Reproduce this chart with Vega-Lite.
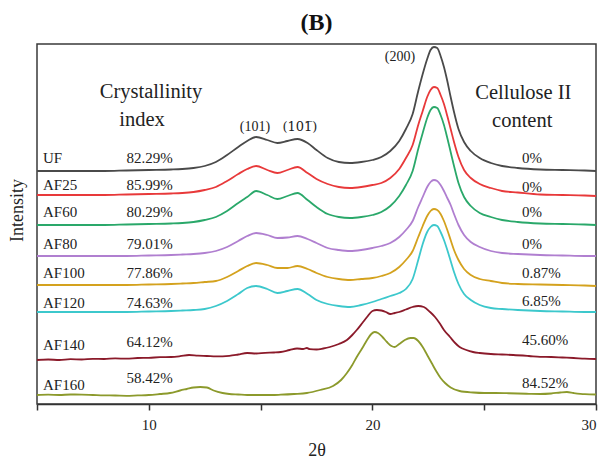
{
  "$schema": "https://vega.github.io/schema/vega-lite/v6.json",
  "width": 559,
  "height": 360,
  "autosize": {"type": "none"},
  "padding": {"left": 37, "top": 44, "right": 10, "bottom": 59},
  "background": "white",
  "title": {"text": "(B)", "font": "Liberation Serif", "fontSize": 24, "fontWeight": "bold", "color": "#111", "anchor": "middle", "offset": 9},
  "config": {
    "view": {"stroke": "#3a3a3a", "strokeWidth": 1.5},
    "text": {"font": "Liberation Serif", "color": "#222"}
  },
  "datasets": {
    "curves": [
      {"s":"UF","t":5,"v":233},{"s":"UF","t":6,"v":233},{"s":"UF","t":7,"v":233},{"s":"UF","t":8,"v":233},{"s":"UF","t":9,"v":233.5},{"s":"UF","t":10,"v":234},{"s":"UF","t":11,"v":234.5},
      {"s":"UF","t":11.5,"v":235},{"s":"UF","t":12,"v":236},{"s":"UF","t":12.5,"v":238},{"s":"UF","t":13,"v":242},{"s":"UF","t":13.5,"v":249},{"s":"UF","t":14,"v":257},
      {"s":"UF","t":14.4,"v":263},{"s":"UF","t":14.8,"v":267},{"s":"UF","t":15.3,"v":264},{"s":"UF","t":15.75,"v":261},{"s":"UF","t":16.2,"v":263},{"s":"UF","t":16.65,"v":265},{"s":"UF","t":17.1,"v":261},{"s":"UF","t":17.5,"v":254},
      {"s":"UF","t":18,"v":246},{"s":"UF","t":18.5,"v":242},{"s":"UF","t":19,"v":241},{"s":"UF","t":19.5,"v":242},{"s":"UF","t":20,"v":244},
      {"s":"UF","t":20.4,"v":247},{"s":"UF","t":20.8,"v":253},{"s":"UF","t":21.2,"v":263},{"s":"UF","t":21.5,"v":275},{"s":"UF","t":21.8,"v":290},
      {"s":"UF","t":22.05,"v":313},{"s":"UF","t":22.25,"v":330},{"s":"UF","t":22.45,"v":345},{"s":"UF","t":22.6,"v":354},{"s":"UF","t":22.75,"v":357},{"s":"UF","t":22.9,"v":356},
      {"s":"UF","t":23.05,"v":348},{"s":"UF","t":23.2,"v":337},{"s":"UF","t":23.35,"v":323},{"s":"UF","t":23.5,"v":307},{"s":"UF","t":23.65,"v":292},{"s":"UF","t":23.85,"v":275},
      {"s":"UF","t":24.1,"v":262},{"s":"UF","t":24.4,"v":253},{"s":"UF","t":24.8,"v":246},{"s":"UF","t":25.3,"v":241},{"s":"UF","t":25.8,"v":238},
      {"s":"UF","t":26.5,"v":236},{"s":"UF","t":27.5,"v":234.5},{"s":"UF","t":28.5,"v":234},{"s":"UF","t":29.5,"v":233.5},{"s":"UF","t":30,"v":233},

      {"s":"AF25","t":5,"v":209},{"s":"AF25","t":6,"v":209},{"s":"AF25","t":7,"v":209},{"s":"AF25","t":8,"v":209},{"s":"AF25","t":9,"v":209.5},{"s":"AF25","t":10,"v":210},{"s":"AF25","t":11,"v":210.5},
      {"s":"AF25","t":11.5,"v":211},{"s":"AF25","t":12,"v":212},{"s":"AF25","t":12.5,"v":214},{"s":"AF25","t":13,"v":217},{"s":"AF25","t":13.5,"v":223},{"s":"AF25","t":14,"v":230},
      {"s":"AF25","t":14.4,"v":235},{"s":"AF25","t":14.8,"v":238},{"s":"AF25","t":15.3,"v":234},{"s":"AF25","t":15.75,"v":231},{"s":"AF25","t":16.2,"v":234},{"s":"AF25","t":16.65,"v":237},{"s":"AF25","t":17.1,"v":231},{"s":"AF25","t":17.5,"v":225},
      {"s":"AF25","t":18,"v":220},{"s":"AF25","t":18.5,"v":217},{"s":"AF25","t":19,"v":216},{"s":"AF25","t":19.5,"v":217},{"s":"AF25","t":20,"v":219},
      {"s":"AF25","t":20.4,"v":221},{"s":"AF25","t":20.8,"v":226},{"s":"AF25","t":21.2,"v":235},{"s":"AF25","t":21.5,"v":246},{"s":"AF25","t":21.8,"v":259},
      {"s":"AF25","t":22.05,"v":279},{"s":"AF25","t":22.25,"v":293},{"s":"AF25","t":22.45,"v":307},{"s":"AF25","t":22.6,"v":314},{"s":"AF25","t":22.75,"v":317},{"s":"AF25","t":22.9,"v":316},
      {"s":"AF25","t":23.05,"v":309},{"s":"AF25","t":23.2,"v":300},{"s":"AF25","t":23.35,"v":288},{"s":"AF25","t":23.5,"v":275},{"s":"AF25","t":23.65,"v":262},{"s":"AF25","t":23.85,"v":247},
      {"s":"AF25","t":24.1,"v":234},{"s":"AF25","t":24.4,"v":226},{"s":"AF25","t":24.8,"v":220},{"s":"AF25","t":25.3,"v":216},{"s":"AF25","t":25.8,"v":213},
      {"s":"AF25","t":26.5,"v":211.5},{"s":"AF25","t":27.5,"v":209.5},{"s":"AF25","t":28.5,"v":209},{"s":"AF25","t":29.5,"v":208.5},{"s":"AF25","t":30,"v":208},

      {"s":"AF60","t":5,"v":179},{"s":"AF60","t":6,"v":179},{"s":"AF60","t":7,"v":179},{"s":"AF60","t":8,"v":179},{"s":"AF60","t":9,"v":179.5},{"s":"AF60","t":10,"v":180},{"s":"AF60","t":11,"v":180.5},
      {"s":"AF60","t":11.5,"v":181},{"s":"AF60","t":12,"v":182},{"s":"AF60","t":12.5,"v":184},{"s":"AF60","t":13,"v":187},{"s":"AF60","t":13.5,"v":193},{"s":"AF60","t":14,"v":201},
      {"s":"AF60","t":14.4,"v":207},{"s":"AF60","t":14.8,"v":213},{"s":"AF60","t":15.3,"v":209},{"s":"AF60","t":15.75,"v":205},{"s":"AF60","t":16.2,"v":208},{"s":"AF60","t":16.65,"v":211},{"s":"AF60","t":17.1,"v":204},{"s":"AF60","t":17.5,"v":197},
      {"s":"AF60","t":18,"v":190},{"s":"AF60","t":18.5,"v":187},{"s":"AF60","t":19,"v":186},{"s":"AF60","t":19.5,"v":187},{"s":"AF60","t":20,"v":189},
      {"s":"AF60","t":20.4,"v":192},{"s":"AF60","t":20.8,"v":198},{"s":"AF60","t":21.2,"v":208},{"s":"AF60","t":21.5,"v":219},{"s":"AF60","t":21.8,"v":233},
      {"s":"AF60","t":22.05,"v":255},{"s":"AF60","t":22.25,"v":271},{"s":"AF60","t":22.45,"v":286},{"s":"AF60","t":22.6,"v":294},{"s":"AF60","t":22.75,"v":297},{"s":"AF60","t":22.9,"v":296},
      {"s":"AF60","t":23.05,"v":289},{"s":"AF60","t":23.2,"v":279},{"s":"AF60","t":23.35,"v":266},{"s":"AF60","t":23.5,"v":252},{"s":"AF60","t":23.65,"v":238},{"s":"AF60","t":23.85,"v":221},
      {"s":"AF60","t":24.1,"v":207},{"s":"AF60","t":24.4,"v":198},{"s":"AF60","t":24.8,"v":191},{"s":"AF60","t":25.3,"v":187},{"s":"AF60","t":25.8,"v":184},
      {"s":"AF60","t":26.5,"v":182},{"s":"AF60","t":27.5,"v":180.5},{"s":"AF60","t":28.5,"v":180},{"s":"AF60","t":29.5,"v":179.5},{"s":"AF60","t":30,"v":179},

      {"s":"AF80","t":5,"v":148},{"s":"AF80","t":6,"v":148},{"s":"AF80","t":7,"v":148},{"s":"AF80","t":8,"v":148},{"s":"AF80","t":9,"v":148},{"s":"AF80","t":10,"v":148.5},{"s":"AF80","t":11,"v":149},
      {"s":"AF80","t":11.5,"v":149.5},{"s":"AF80","t":12,"v":150},{"s":"AF80","t":12.5,"v":151},{"s":"AF80","t":13,"v":153},{"s":"AF80","t":13.5,"v":157},{"s":"AF80","t":14,"v":163},
      {"s":"AF80","t":14.4,"v":168},{"s":"AF80","t":14.8,"v":171},{"s":"AF80","t":15.3,"v":169},{"s":"AF80","t":15.75,"v":166},{"s":"AF80","t":16.2,"v":166.5},{"s":"AF80","t":16.65,"v":168},{"s":"AF80","t":17.1,"v":165},{"s":"AF80","t":17.5,"v":161},
      {"s":"AF80","t":18,"v":156},{"s":"AF80","t":18.5,"v":154},{"s":"AF80","t":19,"v":153},{"s":"AF80","t":19.5,"v":154},{"s":"AF80","t":20,"v":156},
      {"s":"AF80","t":20.4,"v":158},{"s":"AF80","t":20.8,"v":161},{"s":"AF80","t":21.2,"v":167},{"s":"AF80","t":21.5,"v":174},{"s":"AF80","t":21.8,"v":183},
      {"s":"AF80","t":22.05,"v":197},{"s":"AF80","t":22.25,"v":207},{"s":"AF80","t":22.45,"v":217},{"s":"AF80","t":22.6,"v":222},{"s":"AF80","t":22.75,"v":224},{"s":"AF80","t":22.9,"v":223},
      {"s":"AF80","t":23.05,"v":219},{"s":"AF80","t":23.2,"v":213},{"s":"AF80","t":23.35,"v":206},{"s":"AF80","t":23.5,"v":199},{"s":"AF80","t":23.65,"v":190},{"s":"AF80","t":23.85,"v":179},
      {"s":"AF80","t":24.1,"v":169},{"s":"AF80","t":24.4,"v":162},{"s":"AF80","t":24.8,"v":157},{"s":"AF80","t":25.3,"v":153},{"s":"AF80","t":25.8,"v":151},
      {"s":"AF80","t":26.5,"v":150},{"s":"AF80","t":27.5,"v":149},{"s":"AF80","t":28.5,"v":148.5},{"s":"AF80","t":29.5,"v":148},{"s":"AF80","t":30,"v":148},

      {"s":"AF100","t":5,"v":119},{"s":"AF100","t":6,"v":119},{"s":"AF100","t":7,"v":119},{"s":"AF100","t":8,"v":119},{"s":"AF100","t":9,"v":119},{"s":"AF100","t":10,"v":119.5},{"s":"AF100","t":11,"v":120},
      {"s":"AF100","t":11.5,"v":120.5},{"s":"AF100","t":12,"v":121},{"s":"AF100","t":12.5,"v":122},{"s":"AF100","t":13,"v":123},{"s":"AF100","t":13.5,"v":127},{"s":"AF100","t":14,"v":133},
      {"s":"AF100","t":14.4,"v":138},{"s":"AF100","t":14.8,"v":141},{"s":"AF100","t":15.3,"v":139},{"s":"AF100","t":15.75,"v":136},{"s":"AF100","t":16.2,"v":136},{"s":"AF100","t":16.65,"v":138},{"s":"AF100","t":17.1,"v":135},{"s":"AF100","t":17.5,"v":131},
      {"s":"AF100","t":18,"v":127},{"s":"AF100","t":18.5,"v":125},{"s":"AF100","t":19,"v":124},{"s":"AF100","t":19.5,"v":125},{"s":"AF100","t":20,"v":126},
      {"s":"AF100","t":20.4,"v":128},{"s":"AF100","t":20.8,"v":131},{"s":"AF100","t":21.2,"v":137},{"s":"AF100","t":21.5,"v":144},{"s":"AF100","t":21.8,"v":153},
      {"s":"AF100","t":22.05,"v":167},{"s":"AF100","t":22.25,"v":178},{"s":"AF100","t":22.45,"v":188},{"s":"AF100","t":22.6,"v":193},{"s":"AF100","t":22.75,"v":195},{"s":"AF100","t":22.9,"v":194},
      {"s":"AF100","t":23.05,"v":190},{"s":"AF100","t":23.2,"v":183},{"s":"AF100","t":23.35,"v":174},{"s":"AF100","t":23.5,"v":164},{"s":"AF100","t":23.65,"v":154},{"s":"AF100","t":23.85,"v":144},
      {"s":"AF100","t":24.1,"v":135},{"s":"AF100","t":24.4,"v":129},{"s":"AF100","t":24.8,"v":125},{"s":"AF100","t":25.3,"v":123},{"s":"AF100","t":25.8,"v":121},
      {"s":"AF100","t":26.5,"v":120},{"s":"AF100","t":27.5,"v":119.5},{"s":"AF100","t":28.5,"v":119},{"s":"AF100","t":29.5,"v":118.5},{"s":"AF100","t":30,"v":118},

      {"s":"AF120","t":5,"v":92},{"s":"AF120","t":6,"v":92},{"s":"AF120","t":7,"v":92},{"s":"AF120","t":8,"v":92},{"s":"AF120","t":9,"v":92},{"s":"AF120","t":10,"v":92.5},{"s":"AF120","t":11,"v":93},
      {"s":"AF120","t":11.5,"v":93.5},{"s":"AF120","t":12,"v":94},{"s":"AF120","t":12.5,"v":95},{"s":"AF120","t":13,"v":98},{"s":"AF120","t":13.5,"v":103},{"s":"AF120","t":14,"v":110},
      {"s":"AF120","t":14.4,"v":116},{"s":"AF120","t":14.8,"v":118},{"s":"AF120","t":15.3,"v":115},{"s":"AF120","t":15.75,"v":111},{"s":"AF120","t":16.2,"v":113},{"s":"AF120","t":16.65,"v":115},{"s":"AF120","t":17.1,"v":110},{"s":"AF120","t":17.5,"v":104},
      {"s":"AF120","t":18,"v":100},{"s":"AF120","t":18.5,"v":98},{"s":"AF120","t":19,"v":97},{"s":"AF120","t":19.5,"v":99},{"s":"AF120","t":20,"v":102},
      {"s":"AF120","t":20.4,"v":105},{"s":"AF120","t":20.8,"v":108},{"s":"AF120","t":21.2,"v":111},{"s":"AF120","t":21.5,"v":115},{"s":"AF120","t":21.8,"v":125},
      {"s":"AF120","t":22.05,"v":144},{"s":"AF120","t":22.25,"v":160},{"s":"AF120","t":22.45,"v":172},{"s":"AF120","t":22.6,"v":177},{"s":"AF120","t":22.75,"v":179},{"s":"AF120","t":22.9,"v":178},
      {"s":"AF120","t":23.05,"v":172},{"s":"AF120","t":23.2,"v":164},{"s":"AF120","t":23.35,"v":154},{"s":"AF120","t":23.5,"v":143},{"s":"AF120","t":23.65,"v":132},{"s":"AF120","t":23.85,"v":120},
      {"s":"AF120","t":24.1,"v":110},{"s":"AF120","t":24.4,"v":104},{"s":"AF120","t":24.8,"v":99},{"s":"AF120","t":25.3,"v":96},{"s":"AF120","t":25.8,"v":95},
      {"s":"AF120","t":26.5,"v":94},{"s":"AF120","t":27.5,"v":93},{"s":"AF120","t":28.5,"v":92.5},{"s":"AF120","t":29.5,"v":92},{"s":"AF120","t":30,"v":92},

      {"s":"AF140","t":5,"v":44},{"s":"AF140","t":5.5,"v":44.5},{"s":"AF140","t":6,"v":44},{"s":"AF140","t":6.5,"v":44.8},{"s":"AF140","t":7,"v":44.5},{"s":"AF140","t":7.5,"v":45.2},{"s":"AF140","t":8,"v":45},{"s":"AF140","t":8.5,"v":45.6},{"s":"AF140","t":9,"v":45.3},{"s":"AF140","t":9.5,"v":46},{"s":"AF140","t":10,"v":46.2},{"s":"AF140","t":10.5,"v":46.8},{"s":"AF140","t":11,"v":47},{"s":"AF140","t":11.4,"v":47.8},{"s":"AF140","t":11.8,"v":49},{"s":"AF140","t":12.2,"v":48.3},{"s":"AF140","t":12.6,"v":48},{"s":"AF140","t":13,"v":47.6},{"s":"AF140","t":13.6,"v":48.2},{"s":"AF140","t":14,"v":49.5},{"s":"AF140","t":14.4,"v":51},{"s":"AF140","t":14.8,"v":50.5},{"s":"AF140","t":15.2,"v":51.2},{"s":"AF140","t":15.6,"v":51.5},{"s":"AF140","t":15.9,"v":52},{"s":"AF140","t":16.3,"v":54},{"s":"AF140","t":16.63,"v":55.5},{"s":"AF140","t":16.9,"v":55},{"s":"AF140","t":17.07,"v":56},{"s":"AF140","t":17.2,"v":54.8},{"s":"AF140","t":17.5,"v":54.5},{"s":"AF140","t":17.8,"v":55.5},{"s":"AF140","t":18.1,"v":57},{"s":"AF140","t":18.5,"v":60},{"s":"AF140","t":18.86,"v":64},{"s":"AF140","t":19.1,"v":69},{"s":"AF140","t":19.3,"v":74},{"s":"AF140","t":19.55,"v":81},{"s":"AF140","t":19.76,"v":87},{"s":"AF140","t":20,"v":93},{"s":"AF140","t":20.2,"v":94},{"s":"AF140","t":20.4,"v":93.5},{"s":"AF140","t":20.6,"v":92},{"s":"AF140","t":20.8,"v":90},{"s":"AF140","t":21,"v":91},{"s":"AF140","t":21.2,"v":92},{"s":"AF140","t":21.5,"v":94.5},{"s":"AF140","t":21.8,"v":97},{"s":"AF140","t":22.05,"v":98},{"s":"AF140","t":22.3,"v":97},{"s":"AF140","t":22.58,"v":92},{"s":"AF140","t":22.8,"v":87},{"s":"AF140","t":23,"v":81},{"s":"AF140","t":23.2,"v":74},{"s":"AF140","t":23.47,"v":67},{"s":"AF140","t":23.7,"v":61},{"s":"AF140","t":23.9,"v":57},{"s":"AF140","t":24.2,"v":54},{"s":"AF140","t":24.5,"v":52},{"s":"AF140","t":24.8,"v":51},{"s":"AF140","t":25.3,"v":50},{"s":"AF140","t":25.8,"v":49.5},{"s":"AF140","t":26.3,"v":49},{"s":"AF140","t":27,"v":48},{"s":"AF140","t":27.5,"v":47.2},{"s":"AF140","t":28,"v":47},{"s":"AF140","t":28.5,"v":46.5},{"s":"AF140","t":29,"v":46},{"s":"AF140","t":29.5,"v":45.3},{"s":"AF140","t":30,"v":45},

      {"s":"AF160","t":5,"v":9},{"s":"AF160","t":5.5,"v":9.3},{"s":"AF160","t":6,"v":9},{"s":"AF160","t":6.5,"v":9.5},{"s":"AF160","t":7,"v":9.4},{"s":"AF160","t":7.5,"v":9},{"s":"AF160","t":8,"v":8.6},{"s":"AF160","t":8.5,"v":8.5},{"s":"AF160","t":9,"v":8.2},{"s":"AF160","t":9.5,"v":8.6},{"s":"AF160","t":10,"v":9},{"s":"AF160","t":10.5,"v":10},{"s":"AF160","t":10.95,"v":11},{"s":"AF160","t":11.4,"v":13.5},{"s":"AF160","t":11.7,"v":15},{"s":"AF160","t":12,"v":16.5},{"s":"AF160","t":12.3,"v":17},{"s":"AF160","t":12.6,"v":16.5},{"s":"AF160","t":12.9,"v":13.5},{"s":"AF160","t":13.3,"v":11},{"s":"AF160","t":13.6,"v":10},{"s":"AF160","t":14,"v":9.5},{"s":"AF160","t":14.4,"v":9},{"s":"AF160","t":15,"v":9},{"s":"AF160","t":15.5,"v":9},{"s":"AF160","t":15.9,"v":9.3},{"s":"AF160","t":16.5,"v":10},{"s":"AF160","t":17.07,"v":11},{"s":"AF160","t":17.66,"v":14},{"s":"AF160","t":18.24,"v":18},{"s":"AF160","t":18.6,"v":24},{"s":"AF160","t":18.86,"v":31},{"s":"AF160","t":19.1,"v":39},{"s":"AF160","t":19.3,"v":47},{"s":"AF160","t":19.55,"v":56},{"s":"AF160","t":19.76,"v":64},{"s":"AF160","t":19.95,"v":70},{"s":"AF160","t":20.1,"v":72},{"s":"AF160","t":20.25,"v":71},{"s":"AF160","t":20.45,"v":67},{"s":"AF160","t":20.65,"v":62},{"s":"AF160","t":20.85,"v":58},{"s":"AF160","t":21,"v":57},{"s":"AF160","t":21.2,"v":60},{"s":"AF160","t":21.45,"v":64},{"s":"AF160","t":21.7,"v":66},{"s":"AF160","t":21.85,"v":66},{"s":"AF160","t":22.05,"v":63},{"s":"AF160","t":22.25,"v":57},{"s":"AF160","t":22.45,"v":49},{"s":"AF160","t":22.65,"v":41},{"s":"AF160","t":22.85,"v":33},{"s":"AF160","t":23.05,"v":26},{"s":"AF160","t":23.25,"v":21},{"s":"AF160","t":23.5,"v":16.5},{"s":"AF160","t":23.9,"v":13},{"s":"AF160","t":24.5,"v":11.5},{"s":"AF160","t":25,"v":11},{"s":"AF160","t":25.5,"v":11},{"s":"AF160","t":26,"v":10.8},{"s":"AF160","t":26.5,"v":10.5},{"s":"AF160","t":27,"v":10.2},{"s":"AF160","t":27.5,"v":10},{"s":"AF160","t":28,"v":10.5},{"s":"AF160","t":28.4,"v":11.5},{"s":"AF160","t":28.7,"v":12},{"s":"AF160","t":29,"v":11},{"s":"AF160","t":29.5,"v":9.8},{"s":"AF160","t":30,"v":9.5}
    ]
  },
  "encoding": {
    "x": {"field": "t", "type": "quantitative", "scale": {"domain": [5, 30], "nice": false, "zero": false},
      "axis": {"values": [5, 10, 15, 20, 25, 30], "labelExpr": "datum.value % 10 === 0 ? datum.label : ''", "grid": false,
        "tickSize": 6, "tickColor": "#333", "tickWidth": 1.5, "domainColor": "#333", "domainWidth": 1.5,
        "labelFont": "Liberation Serif", "labelFontSize": 15, "labelColor": "#222", "labelPadding": 7,
        "title": "2θ", "titleFont": "Liberation Serif", "titleFontSize": 18, "titleFontWeight": "normal", "titleColor": "#222", "titlePadding": 9}},
    "y": {"field": "v", "type": "quantitative", "scale": {"domain": [0, 360], "nice": false, "zero": false},
      "axis": {"title": "Intensity", "labels": false, "ticks": false, "domain": false, "grid": false,
        "titleFont": "Liberation Serif", "titleFontSize": 18, "titleFontWeight": "normal", "titleColor": "#222",
        "titleX": -11, "titleY": 166}}
  },
  "layer": [
    {
      "data": {"name": "curves"},
      "mark": {"type": "line", "strokeWidth": 1.8, "interpolate": "monotone", "clip": true},
      "encoding": {
        "color": {"field": "s", "type": "nominal", "legend": null,
          "scale": {"domain": ["UF", "AF25", "AF60", "AF80", "AF100", "AF120", "AF140", "AF160"],
            "range": ["#4a4a4a", "#e8393a", "#2aa86a", "#b07fd0", "#d4a21e", "#3cc8cc", "#8b1a2a", "#8c9a2c"]}}
      }
    },
    {
      "data": {"values": [
        {"lab": "UF", "t": 5.27, "v": 246}, {"lab": "AF25", "t": 5.27, "v": 219}, {"lab": "AF60", "t": 5.27, "v": 192},
        {"lab": "AF80", "t": 5.27, "v": 160}, {"lab": "AF100", "t": 5.27, "v": 131}, {"lab": "AF120", "t": 5.27, "v": 101},
        {"lab": "AF140", "t": 5.27, "v": 59}, {"lab": "AF160", "t": 5.27, "v": 19},
        {"lab": "82.29%", "t": 9.0, "v": 246}, {"lab": "85.99%", "t": 9.0, "v": 219}, {"lab": "80.29%", "t": 9.0, "v": 192},
        {"lab": "79.01%", "t": 9.0, "v": 160}, {"lab": "77.86%", "t": 9.0, "v": 131}, {"lab": "74.63%", "t": 9.0, "v": 101},
        {"lab": "64.12%", "t": 9.0, "v": 62}, {"lab": "58.42%", "t": 9.0, "v": 26},
        {"lab": "0%", "t": 26.69, "v": 246}, {"lab": "0%", "t": 26.69, "v": 217}, {"lab": "0%", "t": 26.69, "v": 192},
        {"lab": "0%", "t": 26.69, "v": 160}, {"lab": "0.87%", "t": 26.69, "v": 131}, {"lab": "6.85%", "t": 26.69, "v": 103},
        {"lab": "45.60%", "t": 26.69, "v": 64}, {"lab": "84.52%", "t": 26.69, "v": 21}
      ]},
      "mark": {"type": "text", "align": "left", "baseline": "middle", "fontSize": 15, "font": "Liberation Serif", "color": "#222"},
      "encoding": {"text": {"field": "lab"}}
    },
    {
      "data": {"values": [
        {"lab": "Crystallinity", "t": 10.1, "v": 312}, {"lab": "index", "t": 9.7, "v": 284},
        {"lab": "Cellulose II", "t": 26.75, "v": 311}, {"lab": "content", "t": 26.7, "v": 283}
      ]},
      "mark": {"type": "text", "align": "center", "baseline": "middle", "fontSize": 20.5, "font": "Liberation Serif", "color": "#222"},
      "encoding": {"text": {"field": "lab"}}
    },
    {
      "data": {"values": [
        {"lab": "(200)", "t": 21.23, "v": 347}, {"lab": "(101)", "t": 14.75, "v": 277}
      ]},
      "mark": {"type": "text", "align": "center", "baseline": "middle", "fontSize": 14, "font": "Liberation Serif", "color": "#222"},
      "encoding": {"text": {"field": "lab"}}
    },
    {
      "data": {"values": [
        {"lab": "(101\u0305)", "t": 16.76, "v": 277}
      ]},
      "mark": {"type": "text", "align": "center", "baseline": "middle", "fontSize": 13, "font": "DejaVu Serif", "color": "#222"},
      "encoding": {"text": {"field": "lab"}}
    }
  ]
}
